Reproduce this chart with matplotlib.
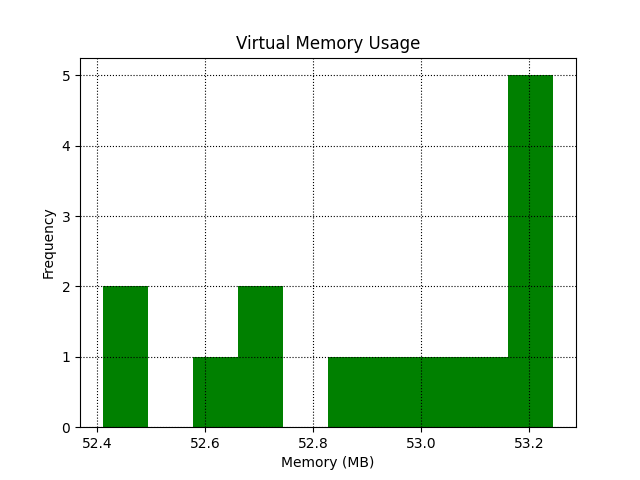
import matplotlib
matplotlib.use("Agg")
import matplotlib.pyplot as plt

# Virtual memory samples (MB)
memory_mb = [52.41, 52.45, 52.62, 52.68, 52.71, 52.87, 52.95,
             53.05, 53.12, 53.19, 53.21, 53.22, 53.23, 53.245]
n_bins = 10

fig, ax = plt.subplots(figsize=(6.4, 4.8), dpi=100)
ax.hist(memory_mb, bins=n_bins, color='green')
ax.grid(True, linestyle=':', color='black')

ax.set_title("Virtual Memory Usage")
ax.set_xlabel("Memory (MB)")
ax.set_ylabel("Frequency")

fig.savefig("out.png")
